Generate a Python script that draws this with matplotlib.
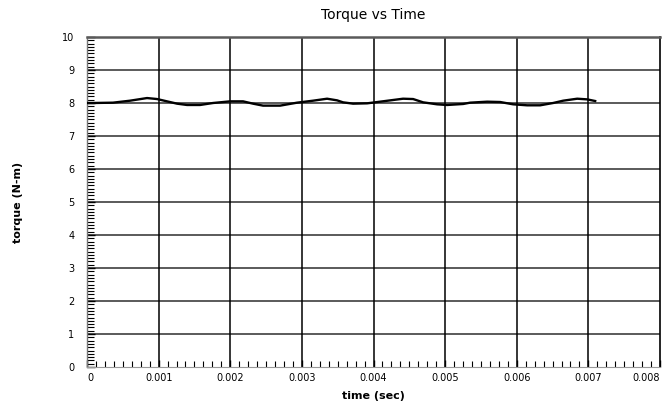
import matplotlib
matplotlib.use("Agg")
import matplotlib.pyplot as plt
from matplotlib.ticker import MultipleLocator, FixedLocator

# Data
time_s = [0.0, 0.000084, 0.000363, 0.000601, 0.000838, 0.000978, 0.001117, 0.001257,
          0.001397, 0.001578, 0.001760, 0.001997, 0.002179, 0.002318, 0.002458, 0.002696,
          0.002933, 0.003156, 0.003352, 0.003492, 0.003575, 0.003715, 0.003911, 0.004092,
          0.004413, 0.004553, 0.004693, 0.004888, 0.005028, 0.005251, 0.005349, 0.005587,
          0.005768, 0.005950, 0.006145, 0.006327, 0.006508, 0.006648, 0.006844, 0.006983,
          0.007095]
torque = [8.00, 8.00, 8.01, 8.07, 8.15, 8.12, 8.05, 7.98,
          7.94, 7.94, 8.00, 8.05, 8.05, 7.98, 7.92, 7.92,
          8.01, 8.07, 8.13, 8.08, 8.02, 7.98, 7.99, 8.04,
          8.13, 8.12, 8.02, 7.96, 7.94, 7.97, 8.01, 8.04,
          8.03, 7.96, 7.93, 7.93, 8.00, 8.07, 8.13, 8.11,
          8.06]
x_ticks = [0, 0.001, 0.002, 0.003, 0.004, 0.005, 0.006, 0.007, 0.008]
x_ticklabels = ["0", "0.001", "0.002", "0.003", "0.004", "0.005", "0.006", "0.007", "0.008"]
y_ticks = [0, 1, 2, 3, 4, 5, 6, 7, 8, 9, 10]
y_ticklabels = ["0", "1", "2", "3", "4", "5", "6", "7", "8", "9", "10"]

W, H = 663, 413
fig = plt.figure(figsize=(W / 100, H / 100), dpi=100)
left, right, top, bottom = 87, 660, 37, 367
ax = fig.add_axes([left / W, 1 - bottom / H, (right - left) / W, (bottom - top) / H])

ax.set_xlim(0, 0.008)
ax.set_ylim(0, 10)

# grid lines
for yv in y_ticks[1:-1]:
    ax.axhline(yv, color="#5a5a5a", lw=1.4, zorder=1)
for xv in x_ticks[1:-1]:
    ax.axvline(xv, color="black", lw=1.1, zorder=1)

ax.plot(time_s, torque, color="black", lw=1.7, zorder=3)

ax.xaxis.set_major_locator(FixedLocator(x_ticks))
ax.set_xticklabels(x_ticklabels)
ax.yaxis.set_major_locator(FixedLocator(y_ticks))
ax.set_yticklabels(y_ticklabels)
ax.xaxis.set_minor_locator(MultipleLocator(0.000125))
ax.yaxis.set_minor_locator(MultipleLocator(0.1))

ax.tick_params(axis="both", which="both", direction="in", colors="black",
               labelsize=7, top=False, right=False)
ax.tick_params(axis="y", which="major", length=6, width=1.0, pad=9)
ax.tick_params(axis="y", which="minor", length=5, width=0.8)
ax.tick_params(axis="x", which="major", length=5, width=1.0, pad=4)
ax.tick_params(axis="x", which="minor", length=4, width=0.8)

xl = ax.get_xticklabels()
xl[0].set_horizontalalignment("left")
xl[-1].set_horizontalalignment("right")

ax.spines["top"].set_color("#5a5a5a")
ax.spines["top"].set_linewidth(1.8)
ax.spines["left"].set_color("#777777")
ax.spines["left"].set_linewidth(1.0)
ax.spines["bottom"].set_color("#999999")
ax.spines["bottom"].set_linewidth(0.8)
ax.spines["right"].set_color("black")
ax.spines["right"].set_linewidth(1.2)

fig.text(373 / W, 1 - 15 / H, "Torque vs Time", ha="center", va="center", fontsize=10)
fig.text(373 / W, 1 - 396 / H, "time (sec)", ha="center", va="center", fontsize=8,
         fontweight="bold")
fig.text(18 / W, 1 - 202 / H, "torque (N-m)", ha="center", va="center", fontsize=8,
         fontweight="bold", rotation=90)

fig.savefig("out.png", dpi=100)
